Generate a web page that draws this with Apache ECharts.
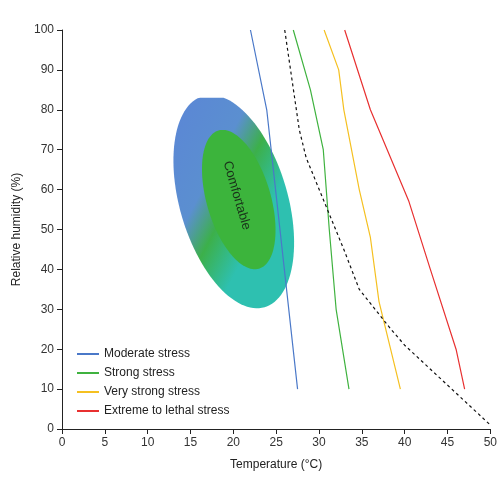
<!DOCTYPE html>
<html>
<head>
<meta charset="utf-8">
<script src="https://cdn.jsdelivr.net/npm/echarts@6/dist/echarts.min.js"></script>
<style>html,body{margin:0;padding:0;background:#fff}#chart{width:500px;height:490px}</style>
</head>
<body>
<div id="chart"></div>
<script>
// series: [temperature, relative humidity]
let moderate=[[22,100],[23.9,80],[27.5,10]]
let strong=[[27,100],[29,85],[30.5,70],[31.2,50],[32,30],[33.5,10]]
let veryStrong=[[30.6,100],[32.3,90],[32.9,80],[34.7,60],[36,48],[37,32],[39.5,10]]
let extreme=[[33,100],[36,80],[40.5,57],[43,40],[46,20],[47,10]]
let dashed=[[26,100],[27.7,75],[28.5,68],[30.6,57],[32.9,45],[34.7,35],[38.4,25],[40,21],[50,1]]
// comfort zone: centre, top cut-off, label position (data units)
let comfortCentre=[19.7,57]
let comfortTop=83
let comfortLabel=[[20.4,58.5]]

let chart=echarts.init(document.getElementById('chart'))
let font='Liberation Sans'
let ang=Math.atan2(205,60)

function ellipsePts(cx,cy,a,b,ang,topY){
    let pts=[]
    for(let k=0;k<120;k++){
        let t=k/120*Math.PI*2
        let x=a*Math.cos(t),y=b*Math.sin(t)
        let px=cx+x*Math.cos(ang)-y*Math.sin(ang)
        let py=cy+x*Math.sin(ang)+y*Math.cos(ang)
        pts.push([px,Math.max(py,topY)])
    }
    return pts
}

let lineSeries=(name,data,color)=>({
    name:name,type:'line',data:data,symbol:'none',
    lineStyle:{color:color,width:1.2},itemStyle:{color:color}
})

chart.setOption({
    animation:false,
    textStyle:{fontFamily:font},
    grid:{left:62,right:8,top:30,bottom:61},
    legend:{
        orient:'vertical',left:72,top:343,itemGap:7,
        itemWidth:22,itemHeight:2,icon:'rect',
        textStyle:{fontSize:12,color:'#222',fontFamily:font},
        data:['Moderate stress','Strong stress','Very strong stress','Extreme to lethal stress']
    },
    xAxis:{
        type:'value',min:0,max:50,interval:5,
        name:'Temperature (°C)',nameLocation:'middle',nameGap:30,
        nameTextStyle:{fontSize:12,color:'#222'},
        axisLine:{lineStyle:{color:'#222'}},axisTick:{lineStyle:{color:'#222'}},
        axisLabel:{color:'#333',fontSize:12},splitLine:{show:false}
    },
    yAxis:{
        type:'value',min:0,max:100,interval:10,
        name:'Relative humidity (%)',nameLocation:'middle',nameGap:38,
        nameTextStyle:{fontSize:12,color:'#222'},
        axisLine:{show:true,lineStyle:{color:'#222'}},axisTick:{show:true,lineStyle:{color:'#222'}},
        axisLabel:{color:'#333',fontSize:12},splitLine:{show:false}
    },
    series:[
        {
            type:'custom',silent:true,z:1,
            data:[comfortCentre],
            renderItem:function(params,api){
                let c=api.coord(comfortCentre)
                let top=api.coord([0,comfortTop])[1]
                return {type:'group',children:[
                    {type:'polygon',shape:{points:ellipsePts(c[0]+3,c[1],110,54,ang,top)},
                     style:{fill:new echarts.graphic.LinearGradient(0,0,1,0.3,[
                        {offset:0,color:'#5b86d6'},{offset:0.5,color:'#5b8fd0'},
                        {offset:0.72,color:'#3cb04a'},{offset:1,color:'#2ec0b0'}])}},
                    {type:'polygon',shape:{points:ellipsePts(c[0]+8,c[1]-2,72,32,ang,top)},
                     style:{fill:'#3cb43c'}}
                ]}
            }
        },
        {
            type:'scatter',data:comfortLabel,symbolSize:0,silent:true,z:3,
            label:{show:true,position:'inside',formatter:'Comfortable',rotate:-ang*180/Math.PI,
                   fontSize:13,color:'#111',fontFamily:font}
        },
        lineSeries('Moderate stress',moderate,'#4a78c8'),
        lineSeries('Strong stress',strong,'#3fb23f'),
        lineSeries('Very strong stress',veryStrong,'#f5c020'),
        lineSeries('Extreme to lethal stress',extreme,'#e83030'),
        {type:'line',data:dashed,symbol:'none',lineStyle:{color:'#111',width:1.2,type:[3,3]}}
    ]
})
</script>
</body>
</html>
